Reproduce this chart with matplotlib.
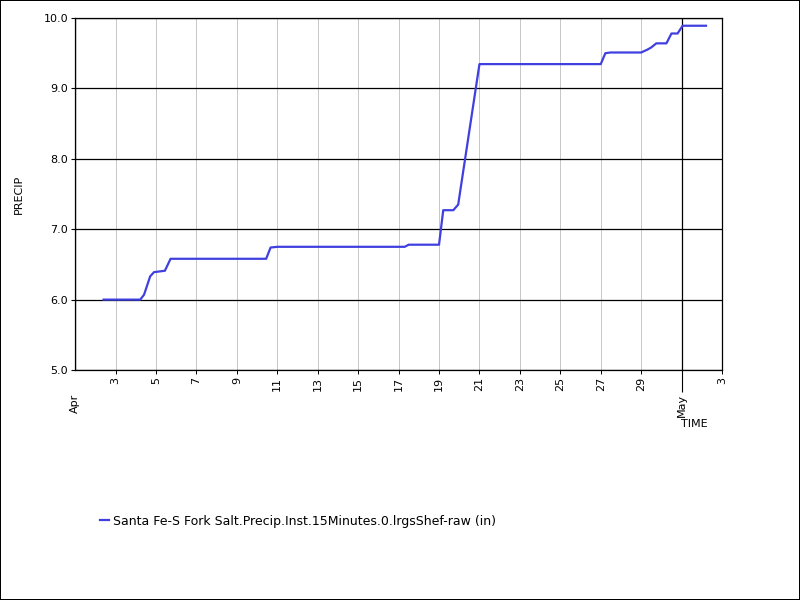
import pandas as pd
import numpy as np
import matplotlib
matplotlib.use("Agg")
import matplotlib.pyplot as plt
import matplotlib.dates as mdates
from matplotlib.lines import Line2D

# readings of the 15 minute precip gage (cumulative inches)
times = [
    "2023-04-02 09:45", "2023-04-04 05:15", "2023-04-04 09:45", "2023-04-04 17:00",
    "2023-04-04 21:30", "2023-04-05 10:30", "2023-04-05 17:15", "2023-04-10 10:45",
    "2023-04-10 16:00", "2023-04-11 00:00", "2023-04-17 07:15", "2023-04-17 12:00",
    "2023-04-19 00:00", "2023-04-19 05:00", "2023-04-19 17:00", "2023-04-19 22:45",
    "2023-04-21 00:00", "2023-04-27 00:00", "2023-04-27 05:30", "2023-04-27 11:30",
    "2023-04-29 00:00", "2023-04-29 07:15", "2023-04-29 11:45", "2023-04-29 18:00",
    "2023-04-30 06:00", "2023-04-30 12:00", "2023-04-30 19:15", "2023-05-01 01:15",
    "2023-05-02 05:00",
]
precip = [
    6.00, 6.00, 6.07, 6.33,
    6.39, 6.41, 6.58, 6.58,
    6.74, 6.75, 6.75, 6.78,
    6.78, 7.27, 7.27, 7.35,
    9.345, 9.345, 9.50, 9.51,
    9.51, 9.55, 9.58, 9.64,
    9.64, 9.78, 9.78, 9.89,
    9.89,
]
series_name = "Santa Fe-S Fork Salt.Precip.Inst.15Minutes.0.lrgsShef-raw (in)"

df = pd.DataFrame({"time": pd.to_datetime(times), "precip": precip})

fig = plt.figure(figsize=(8, 6), dpi=100)
fig.patch.set_edgecolor("black")
fig.patch.set_linewidth(1.2)
ax = fig.add_axes([0.094, 0.3833, 0.8085, 0.5867])

line_color = "#4040e0"
ax.plot(df["time"], df["precip"], color=line_color, lw=1.6)

ax.set_xlim(pd.Timestamp("2023-04-01"), pd.Timestamp("2023-05-03"))
ax.set_ylim(5.0, 10.0)

ax.xaxis.set_major_locator(mdates.MonthLocator())
ax.xaxis.set_major_formatter(mdates.DateFormatter("%b"))
ax.xaxis.set_minor_locator(mdates.DayLocator(bymonthday=list(range(3, 31, 2))))
ax.xaxis.set_minor_formatter(mdates.DateFormatter("%-d"))
ax.set_yticks(np.arange(5.0, 10.01, 1.0))
ax.yaxis.set_major_formatter(matplotlib.ticker.FormatStrFormatter("%.1f"))

ax.tick_params(axis="x", which="major", length=16, width=0.8, pad=1,
               labelsize=8, labelrotation=90)
ax.tick_params(axis="x", which="minor", length=3, width=0.7, pad=2,
               labelsize=8, labelrotation=90)
ax.tick_params(axis="y", length=3, width=0.8, labelsize=8, pad=2)

ax.grid(which="major", color="black", lw=0.9)
ax.grid(which="minor", axis="x", color="#c8c8c8", lw=0.7)
ax.set_axisbelow(True)
for s in ax.spines.values():
    s.set_linewidth(0.9)

ax.set_ylabel("PRECIP", fontsize=8, labelpad=14)
fig.text(681 / 800, 1 - 424 / 600, "TIME", fontsize=8, va="center", ha="left")

handle = Line2D([], [], color=line_color, lw=1.6)
fig.legend([handle], [series_name], loc="center left",
           bbox_to_anchor=(89 / 800, 1 - 521 / 600), frameon=False,
           fontsize=9, handlelength=0.7, handletextpad=0.3)

# hide the long month tick under Apr (it sits on the left spine)
ax.xaxis.get_major_ticks()[0].tick1line.set_visible(False)

fig.savefig("out.png", dpi=100)
